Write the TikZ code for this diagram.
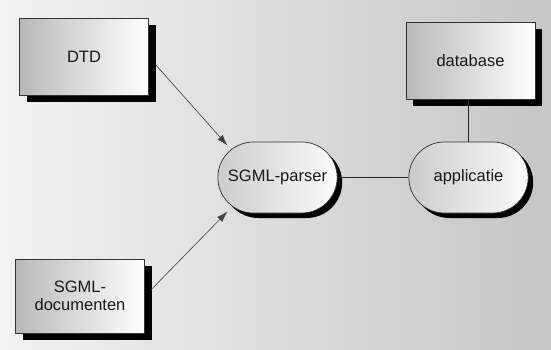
\documentclass[tikz,border=0pt]{standalone}
\usepackage{fontspec}
\setmainfont{Liberation Sans}
\usepackage{tikz}
\usetikzlibrary{shapes.misc, arrows.meta, shadows, positioning}

\begin{document}
\begin{tikzpicture}[%
        >={Latex[length=11pt,width=7pt]},
        node distance=10pt and 10pt, % Global setup of box spacing
        font=\fontsize{16.5}{18.5}\selectfont,
    ]
    \tikzset{
        base/.style={draw=black!80, line width=0.7pt, text=black!90, align=center, on grid},
        file/.style={base, rectangle, minimum width=129pt, minimum height=77pt,
            left color=gray!55, right color=white,
            drop shadow={shadow xshift=7pt, shadow yshift=-7pt, fill=black, opacity=1}},
        proc/.style={base, rounded rectangle, minimum width=126pt, minimum height=71pt,
            left color=gray!40, right color=gray!3,
            drop shadow={shadow xshift=5pt, shadow yshift=-5pt, fill=black, opacity=1}},
        % -------------------------------------------------
        % Connector line styles
        flow/.style={->, draw=black!75, line width=0.6pt},
        link/.style={draw=black!85, line width=0.8pt}
    }
    %%% Background
    \useasboundingbox (0,0) rectangle (551pt,-350pt);
    \fill [left color=gray!10, right color=gray!45] (0,0) rectangle (551pt,-350pt);
    %%% Blocks
    \node [proc] (parser) at (277.5pt,-177.5pt) {SGML-parser};
    \node [proc, right=191pt of parser] (app) {applicatie};
    \node [file, above=116.5pt of app, xshift=2pt] (db) {database};
    \node [file] (dtd) at (84pt,-57pt) {DTD};
    \node [file, minimum height=74pt] (docs) at (80pt,-296pt) {SGML-\\documenten};
    %%% Connectors
    \draw [flow] ([xshift=7pt,yshift=-8pt]dtd.east) -- ([xshift=10pt,yshift=32pt]parser.west);
    \draw [flow] ([xshift=6pt,yshift=6pt]docs.east) -- ([xshift=10pt,yshift=-34pt]parser.west);
    \draw [link] (parser) -- (app);
    \draw [link] (app.north) -- (app.north |- db.south);
\end{tikzpicture}
\end{document}
